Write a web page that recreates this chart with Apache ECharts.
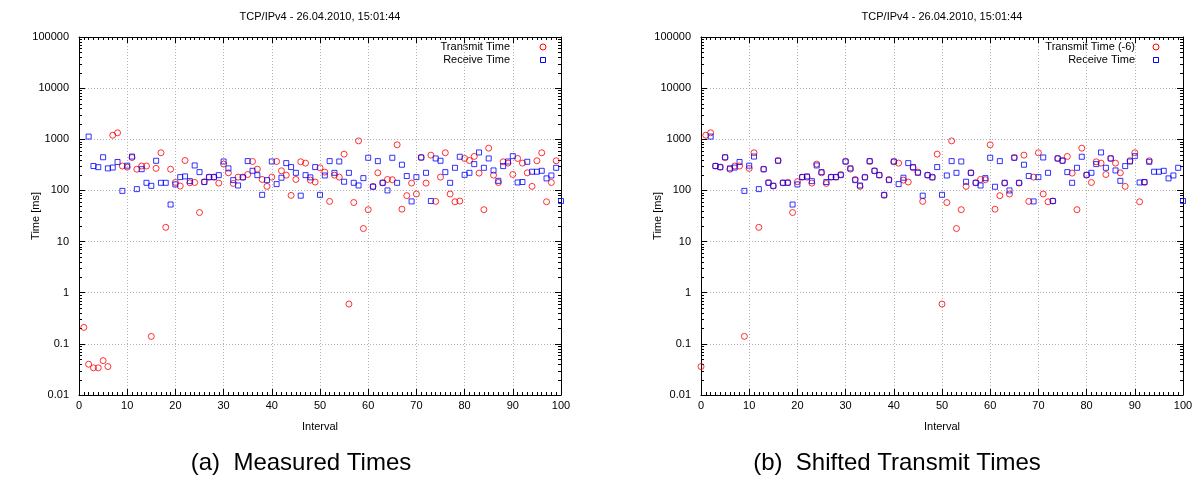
<!DOCTYPE html>
<html><head><meta charset="utf-8">
<script src="https://cdn.jsdelivr.net/npm/echarts@6/dist/echarts.min.js"></script>
<style>html,body{margin:0;padding:0;background:#fff}#c{width:1197px;height:479px}</style>
</head><body><div id="c"></div>
<script>
const titleText = 'TCP/IPv4 - 26.04.2010, 15:01:44';
const captions = ['(a)  Measured Times', '(b)  Shifted Transmit Times'];
const legendNames = ['Transmit Time', 'Receive Time', 'Transmit Time (-6)'];
const xAxisName = 'Interval';
const yAxisName = 'Time [ms]';
const transmitShift = 6;
// intervals 1..100
const transmitTime = [
  0.21, 0.04, 0.034, 0.034, 0.047, 0.036, 1200, 1340, 300, 285,
  440, 260, 300, 300, 0.14, 270, 545, 19, 260, 143,
  122, 385, 141, 143, 37, 148, 182, 182, 139, 327,
  221, 137, 182, 182, 205, 368, 261, 164, 120, 182,
  368, 242, 199, 80, 164, 363, 342, 159, 146, 277,
  228, 61, 199, 182, 512, 0.6, 58, 930, 18, 42,
  120, 221, 141, 164, 162, 780, 43, 79, 139, 85,
  441, 139, 490, 61, 182, 545, 85, 60, 62, 422,
  385, 462, 218, 42, 670, 199, 143, 363, 342, 205,
  422, 342, 221, 120, 380, 545, 60, 143, 380, null
];
const receiveTime = [
  null, 1130, 300, 285, 445, 270, 280, 360, 98, 305,
  460, 106, 260, 141, 123, 380, 141, 141, 53, 131,
  182, 188, 152, 308, 228, 146, 182, 182, 199, 368,
  270, 159, 125, 180, 374, 242, 199, 82, 159, 368,
  133, 177, 342, 286, 221, 79, 199, 180, 286, 82,
  196, 374, 221, 368, 148, 221, 141, 125, 174, 435,
  118, 374, 141, 100, 435, 141, 318, 191, 61, 182,
  441, 221, 62, 422, 380, 228, 141, 277, 455, 202,
  221, 327, 553, 277, 422, 246, 154, 299, 368, 468,
  143, 146, 363, 232, 232, 242, 172, 196, 277, 62
];
const xTickLabels = ['0','10','20','30','40','50','60','70','80','90','100'];
const yTickLabels = ['0.01','0.1','1','10','100','1000','10000','100000'];
const yMinorTicks = [];
for (let k = -2; k <= 4; k++) for (let m = 2; m <= 9; m++) yMinorTicks.push(Number((m * Math.pow(10, k)).toPrecision(3)));

const FONT = '"Liberation Sans", Arial, sans-serif';
const RED = '#ff0000', BLUE = '#0000ff';

function pts(arr, shift) {
  const out = [];
  arr.forEach((v, i) => { const x = i + 1 - shift; if (v != null && x >= 0) out.push([x, v]); });
  return out;
}

const grids = [
  {left: 79, top: 37, width: 482, height: 358},
  {left: 701, top: 37, width: 482, height: 358}
];

const xAxes = [], yAxes = [];
grids.forEach((g, gi) => {
  const baseX = {
    gridIndex: gi, type: 'value', min: 0, max: 100, interval: 10,
    axisLine: {show: true, onZero: false, lineStyle: {color: '#000', width: 1}},
    axisTick: {show: true, inside: true, length: 6, lineStyle: {color: '#000', width: 1}},
    minorTick: {show: true, splitNumber: 10, length: 3, lineStyle: {color: '#000', width: 1}},
  };
  xAxes.push(Object.assign({}, baseX, {
    position: 'bottom',
    axisLabel: {color: '#000', fontSize: 11, fontFamily: FONT, margin: 5,
      formatter: v => xTickLabels[Math.round(v / 10)]},
    splitLine: {show: true, lineStyle: {color: '#b4b4b4', width: 1, type: [1, 2]}},
    name: xAxisName, nameLocation: 'middle', nameGap: 26,
    nameTextStyle: {color: '#000', fontSize: 11, fontFamily: FONT}
  }));
  xAxes.push(Object.assign({}, baseX, {
    position: 'top', axisLabel: {show: false}, splitLine: {show: false}
  }));
  const baseY = {
    gridIndex: gi, type: 'log', logBase: 10, min: 0.01, max: 100000, splitNumber: 7,
    axisLine: {show: true, onZero: false, lineStyle: {color: '#000', width: 1}},
    axisTick: {show: true, inside: true, length: 6, lineStyle: {color: '#000', width: 1}},
  };
  yAxes.push(Object.assign({}, baseY, {
    position: 'left',
    axisLabel: {color: '#000', fontSize: 11, fontFamily: FONT, margin: 10,
      showMinLabel: true, showMaxLabel: true,
      formatter: v => yTickLabels[Math.round(Math.log10(v)) + 2]},
    splitLine: {show: true, lineStyle: {color: '#b4b4b4', width: 1, type: [1, 2]}},
    name: yAxisName, nameLocation: 'middle', nameGap: 38, nameRotate: 90,
    nameMoveOverlap: false,
    nameTextStyle: {color: '#000', fontSize: 11, fontFamily: FONT}
  }));
  yAxes.push(Object.assign({}, baseY, {
    position: 'right', axisLabel: {show: false}, splitLine: {show: false}
  }));
});

function minorTickSeries(gi) {
  return {
    type: 'custom', xAxisIndex: gi * 2, yAxisIndex: gi * 2, silent: true, clip: false,
    data: yMinorTicks.map(v => [0, v]),
    renderItem: (params, api) => {
      const v = api.value(1);
      const a = api.coord([0, v]);
      const b = api.coord([100, v]);
      const y = Math.round(a[1]) + 0.5;
      return {type: 'group', children: [
        {type: 'line', shape: {x1: a[0], y1: y, x2: a[0] + 3, y2: y}, style: {stroke: '#000', lineWidth: 1}},
        {type: 'line', shape: {x1: b[0], y1: y, x2: b[0] - 3, y2: y}, style: {stroke: '#000', lineWidth: 1}}
      ]};
    }
  };
}

function scatter(name, data, gi, symbol, size, color, z) {
  return {
    type: 'scatter', name, data, xAxisIndex: gi * 2, yAxisIndex: gi * 2,
    symbol, symbolSize: size, z,
    itemStyle: {color: 'rgba(0,0,0,0)', borderColor: color, borderWidth: 1},
    emphasis: {disabled: true}, animation: false
  };
}

const series = [
  minorTickSeries(0), minorTickSeries(1),
  scatter(legendNames[0], pts(transmitTime, 0), 0, 'circle', 6, RED, 3),
  scatter(legendNames[1], pts(receiveTime, 0), 0, 'rect', 5, BLUE, 4),
  scatter(legendNames[2], pts(transmitTime, transmitShift), 1, 'circle', 6, RED, 3),
  scatter(legendNames[1], pts(receiveTime, 0), 1, 'rect', 5, BLUE, 4)
];

// key (legend) drawn as graphic: text right-aligned, sample marker to the right
function key(textRight, markerX, names) {
  const txt = (t, y) => ({type: 'text', x: textRight, y, style: {text: t, align: 'right', verticalAlign: 'middle', fontSize: 11, fontFamily: FONT, fill: '#000'}});
  return [
    txt(names[0], 47), txt(names[1], 60),
    {type: 'circle', shape: {cx: markerX, cy: 47, r: 3}, style: {fill: 'none', stroke: RED, lineWidth: 1}},
    {type: 'rect', shape: {x: markerX - 2.5, y: 57.5, width: 5, height: 5}, style: {fill: 'none', stroke: BLUE, lineWidth: 1}}
  ];
}

const chart = echarts.init(document.getElementById('c'), null, {renderer: 'canvas'});
chart.setOption({
  animation: false,
  backgroundColor: '#fff',
  grid: grids,
  xAxis: xAxes,
  yAxis: yAxes,
  graphic: [
    {type: 'text', x: 320, y: 17, style: {text: titleText, align: 'center', verticalAlign: 'middle', fontSize: 11, fontFamily: FONT, fill: '#000'}},
    {type: 'text', x: 942, y: 17, style: {text: titleText, align: 'center', verticalAlign: 'middle', fontSize: 11, fontFamily: FONT, fill: '#000'}},
    {type: 'text', x: 301, y: 463, style: {text: captions[0], align: 'center', verticalAlign: 'middle', fontSize: 24, fontFamily: FONT, fill: '#000'}},
    {type: 'text', x: 897, y: 463, style: {text: captions[1], align: 'center', verticalAlign: 'middle', fontSize: 24, fontFamily: FONT, fill: '#000'}}
  ].concat(key(510, 543, [legendNames[0], legendNames[1]]), key(1135, 1156, [legendNames[2], legendNames[1]])),
  series
});
</script></body></html>
